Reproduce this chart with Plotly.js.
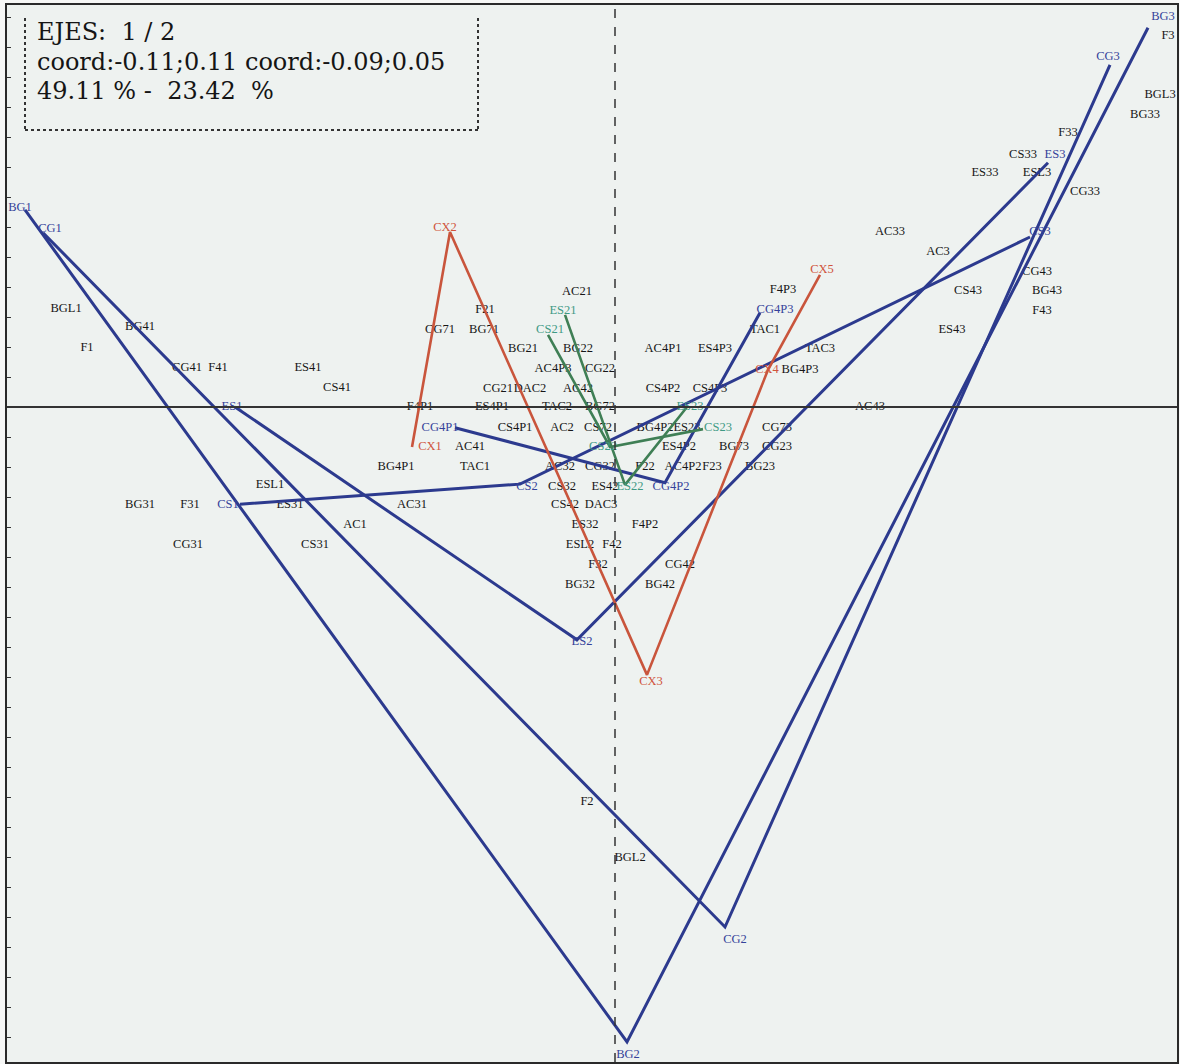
<!DOCTYPE html>
<html>
<head>
<meta charset="utf-8">
<script src="https://cdn.plot.ly/plotly-3.0.1.min.js"></script>
<style>html,body{margin:0;padding:0;background:#f6f7f6;}#chart{width:1180px;height:1064px;}</style>
</head>
<body>
<div id="chart"></div>
<script>
// ---- trajectory vertices (factor 1, factor 2) ----
const bgX = [-0.1180, 0.0024, 0.1066];
const bgY = [0.0276, -0.0889, 0.0531];
const cgX = [-0.1144, 0.0220, 0.0990];
const cgY = [0.0244, -0.0728, 0.0479];
const esX = [-0.0760, -0.0076, 0.0866];
const esY = [0.0000, -0.0326, 0.0342];
const csX = [-0.0750, -0.0190, 0.0830];
const csY = [-0.0136, -0.0108, 0.0238];
const cg4pX = [-0.0320, 0.0100, 0.0290];
const cg4pY = [-0.0029, -0.0106, 0.0132];
const cxX = [-0.0406, -0.0330, 0.0064, 0.0306, 0.0410];
const cxY = [-0.0056, 0.0245, -0.0375, 0.0052, 0.0185];
const cs2X = [-0.0134, -0.0010, 0.0176];
const cs2Y = [0.0101, -0.0056, -0.0031];
const es2X = [-0.0100, 0.0020, 0.0144];
const es2Y = [0.0129, -0.0109, 0.0000];

// ---- point labels ----
const blueNames = ["BG1","CG1","ES1","CS1","CS2","ES2","BG2","CG2","BG3","CG3","ES3","CS3","CG4P1","CG4P2","CG4P3"];
const blueX = [-0.1190,-0.1130,-0.0766,-0.0774,-0.0176,-0.0066,0.0026,0.0240,0.1096,0.0986,0.0880,0.0850,-0.0350,0.0112,0.0320];
const blueY = [0.0279,0.0249,0.0000,-0.0137,-0.0112,-0.0329,-0.0907,-0.0746,0.0546,0.0490,0.0353,0.0245,-0.0029,-0.0112,0.0136];

const redNames = ["CX1","CX2","CX3","CX4","CX5"];
const redX = [-0.0370,-0.0340,0.0072,0.0304,0.0414];
const redY = [-0.0056,0.0251,-0.0385,0.0052,0.0192];

const greenNames = ["CS21","ES21","CS22","ES22","CS23","ES23"];
const greenX = [-0.0130,-0.0104,-0.0024,0.0030,0.0206,0.0150];
const greenY = [0.0108,0.0134,-0.0056,-0.0112,-0.0029,0.0000];

const blackNames = ["BGL1","BG41","F1","CG41","F41","ES41","CS41","ESL1","BG31","F31","ES31","AC31","AC1","CG31","CS31",
  "CG71","BG71","F21","AC21","BG21","BG22","AC4P3","CG22","CG21","DAC2","AC42",
  "F4P1","ES4P1","TAC2","BG72","CS4P1","AC2","CS72","AC41","BG4P1","TAC1","AC32","CG32","CS32","ES42","CS42","DAC3",
  "ES32","ESL2","F42","F32","BG32","AC4P1","ES4P3","CS4P2","CS4P3","BG4P2","ES23","ES4P2","BG73","CG73","CG23",
  "F22","AC4P2","F23","BG23","F4P2","CG42","BG42","F2","BGL2","F4P3","TAC1","TAC3","BG4P3","AC43","AC33","AC3",
  "CG43","CS43","BG43","F43","ES43","CG33","ES33","ESL3","CS33","F33","BG33","BGL3","F3"];
const blackX = [-0.1098,-0.0950,-0.1056,-0.0856,-0.0794,-0.0614,-0.0556,-0.0690,-0.0950,-0.0850,-0.0650,-0.0406,-0.0520,-0.0854,-0.0600,
  -0.0350,-0.0262,-0.0260,-0.0076,-0.0184,-0.0074,-0.0124,-0.0030,-0.0234,-0.0170,-0.0074,
  -0.0390,-0.0246,-0.0116,-0.0030,-0.0200,-0.0106,-0.0034,-0.0290,-0.0438,-0.0280,-0.0110,-0.0030,-0.0106,-0.0020,-0.0100,-0.0028,
  -0.0060,-0.0070,-0.0006,-0.0034,-0.0070,0.0096,0.0200,0.0096,0.0190,0.0080,0.0144,0.0128,0.0238,0.0324,0.0324,
  0.0060,0.0136,0.0194,0.0290,0.0060,0.0130,0.0090,-0.0056,0.0030,0.0336,0.0300,0.0410,0.0370,0.0510,0.0550,0.0646,
  0.0844,0.0706,0.0864,0.0854,0.0674,0.0940,0.0740,0.0844,0.0816,0.0906,0.1060,0.1090,0.1106];
const blackY = [0.0137,0.0112,0.0083,0.0055,0.0055,0.0055,0.0027,-0.0109,-0.0137,-0.0137,-0.0137,-0.0137,-0.0165,-0.0193,-0.0193,
  0.0108,0.0108,0.0136,0.0161,0.0081,0.0081,0.0053,0.0053,0.0025,0.0025,0.0025,
  0.0000,0.0000,0.0000,0.0000,-0.0029,-0.0029,-0.0029,-0.0056,-0.0084,-0.0084,-0.0084,-0.0084,-0.0112,-0.0112,-0.0137,-0.0137,
  -0.0165,-0.0193,-0.0193,-0.0221,-0.0249,0.0081,0.0081,0.0025,0.0025,-0.0029,-0.0029,-0.0056,-0.0056,-0.0029,-0.0056,
  -0.0084,-0.0084,-0.0084,-0.0084,-0.0165,-0.0221,-0.0249,-0.0553,-0.0631,0.0164,0.0108,0.0081,0.0052,0.0000,0.0245,0.0217,
  0.0189,0.0162,0.0162,0.0134,0.0108,0.0301,0.0328,0.0328,0.0353,0.0384,0.0409,0.0437,0.0519];

const infoLines = ["EJES:  1 / 2", "coord:-0.11;0.11 coord:-0.09;0.05", "49.11 % -  23.42  %"];

// ---- styles ----
const LBL_FONT = "Liberation Serif, DejaVu Serif, serif";
const BLUE = "#2c3a8e", RED = "#c9553c", GREEN = "#3f7f55";

function textTrace(names, xs, ys, color) {
  return {type: "scatter", mode: "text", x: xs, y: ys, text: names, textposition: "middle center",
    textfont: {family: LBL_FONT, size: 12.5, color: color}, hoverinfo: "skip", cliponaxis: false, showlegend: false};
}
function lineTrace(xs, ys, color, w) {
  return {type: "scatter", mode: "lines", x: xs, y: ys, line: {color: color, width: w},
    hoverinfo: "skip", showlegend: false};
}

const traces = [
  textTrace(blackNames, blackX, blackY, "#161616"),
  lineTrace(bgX, bgY, BLUE, 3),
  lineTrace(cgX, cgY, BLUE, 3),
  lineTrace(esX, esY, BLUE, 3),
  lineTrace(csX, csY, BLUE, 3),
  lineTrace(cg4pX, cg4pY, BLUE, 3),
  lineTrace(cxX, cxY, RED, 2.6),
  lineTrace(cs2X, cs2Y, GREEN, 2.6),
  lineTrace(es2X, es2Y, GREEN, 2.6),
  textTrace(blueNames, blueX, blueY, "#34429a"),
  textTrace(redNames, redX, redY, "#d0543c"),
  textTrace(greenNames, greenX, greenY, "#3f9a85")
];

// plot area in pixels: left 7, right 1177, top 5, bottom 1062
const L = 7, R = 1177, T = 5, B = 1062;
const px = v => (v - L) / (R - L);
const py = v => 1 - (v - T) / (B - T);

const annotations = infoLines.map((t, i) => ({
  xref: "paper", yref: "paper", x: px(35), y: py([32, 62, 91][i]), xanchor: "left", yanchor: "middle",
  text: t.replace(/ /g, "&nbsp;"), showarrow: false, font: {family: "DejaVu Serif, serif", size: 24, color: "#151515"}
}));

const shapes = [
  // factor axes
  {type: "line", xref: "paper", yref: "y", x0: 0, x1: 1, y0: 0, y1: 0, line: {color: "#333", width: 1.8}},
  {type: "line", xref: "x", yref: "paper", x0: 0, x1: 0, y0: 0, y1: 1, line: {color: "#333", width: 1.5, dash: "dash"}},
  // info box dotted border
  {type: "line", xref: "paper", yref: "paper", x0: px(25), x1: px(25), y0: py(18), y1: py(130), line: {color: "#333", width: 2, dash: "dot"}},
  {type: "line", xref: "paper", yref: "paper", x0: px(478), x1: px(478), y0: py(18), y1: py(130), line: {color: "#333", width: 2, dash: "dot"}},
  {type: "line", xref: "paper", yref: "paper", x0: px(25), x1: px(478), y0: py(130), y1: py(130), line: {color: "#333", width: 2, dash: "dot"}}
];

const layout = {
  width: 1180, height: 1064, autosize: false,
  margin: {l: L, r: 1180 - R, t: T, b: 1064 - B, pad: 0},
  paper_bgcolor: "#f6f7f6", plot_bgcolor: "#eef2f0",
  showlegend: false,
  xaxis: {range: [(L - 615) * 0.0002, (R - 615) * 0.0002], showgrid: false, zeroline: false, showticklabels: false,
    ticks: "", showline: true, mirror: true, linecolor: "#2a2a2a", linewidth: 2, fixedrange: true},
  yaxis: {range: [(407 - B) * 0.00014, (407 - T) * 0.00014], showgrid: false, zeroline: false, showticklabels: false,
    ticks: "inside", ticklen: 4, tickcolor: "#333", tickwidth: 1, tick0: 0, dtick: 0.0042,
    showline: true, mirror: true, linecolor: "#2a2a2a", linewidth: 2, fixedrange: true},
  annotations: annotations,
  shapes: shapes
};

Plotly.newPlot("chart", traces, layout, {displayModeBar: false, staticPlot: true});
</script>
</body>
</html>
